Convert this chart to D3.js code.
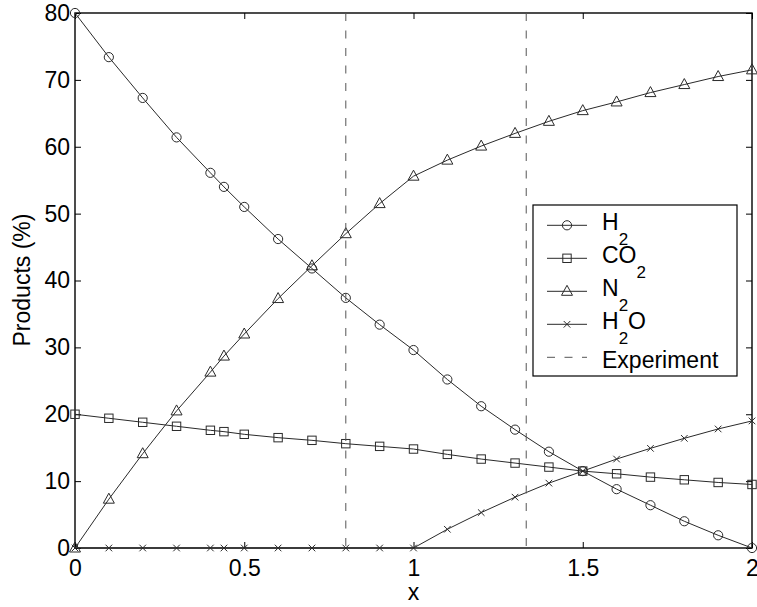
<!DOCTYPE html>
<html>
<head>
<meta charset="utf-8">
<script src="https://cdn.jsdelivr.net/npm/d3@7"></script>
<style>
  body { margin: 0; background: #fff; }
  svg { font-family: "Liberation Sans", Arial, sans-serif; }
</style>
</head>
<body>
<svg id="chart" width="757" height="607"></svg>
<script>
// values
const xValues = [0, 0.1, 0.2, 0.3, 0.4, 0.44, 0.5, 0.6, 0.7, 0.8, 0.9, 1.0,
                 1.1, 1.2, 1.3, 1.4, 1.5, 1.6, 1.7, 1.8, 1.9, 2.0];
const h2 = [80, 73.4, 67.3, 61.4, 56.1, 54.0, 51.0, 46.2, 41.8, 37.4, 33.4, 29.6,
            25.2, 21.2, 17.7, 14.4, 11.5, 8.8, 6.4, 4.0, 1.9, 0];
const co2 = [20, 19.4, 18.8, 18.2, 17.6, 17.4, 17.0, 16.5, 16.1, 15.6, 15.2, 14.8,
             14.0, 13.3, 12.7, 12.1, 11.5, 11.1, 10.6, 10.2, 9.8, 9.5];
const n2 = [0, 7.3, 14.1, 20.5, 26.3, 28.7, 32.0, 37.3, 42.2, 47.0, 51.5, 55.6,
            58.0, 60.1, 62.0, 63.8, 65.4, 66.7, 68.1, 69.3, 70.5, 71.5];
const h2o = [0, 0, 0, 0, 0, 0, 0, 0, 0, 0, 0, 0,
             2.8, 5.3, 7.6, 9.7, 11.5, 13.3, 14.9, 16.4, 17.8, 19.0];
const experimentX = [0.8, 1.333];
const xTicks = [0, 0.5, 1, 1.5, 2];
const yTicks = [0, 10, 20, 30, 40, 50, 60, 70, 80];

// series: main label, subscript, tail after subscript, marker
const series = [
    { main: "H", sub: "2", tail: "", marker: "circle", values: h2 },
    { main: "CO", sub: "2", tail: "", marker: "square", values: co2 },
    { main: "N", sub: "2", tail: "", marker: "triangle", values: n2 },
    { main: "H", sub: "2", tail: "O", marker: "cross", values: h2o }
];

const svg = d3.select("#chart");
const margin = { top: 13, right: 5, bottom: 59, left: 75 };
const width = 757 - margin.left - margin.right;
const height = 607 - margin.top - margin.bottom;
const fontSize = 23;
const lineColor = "#2a2a2a";

const x = d3.scaleLinear().domain([0, 2]).range([0, width]);
const y = d3.scaleLinear().domain([0, 80]).range([height, 0]);

const g = svg.append("g").attr("transform", `translate(${margin.left},${margin.top})`);

// axes, ticks pointing inward, mirrored on top and right
const fmt = d => String(d);
g.append("g").attr("transform", `translate(0,${height})`)
    .call(d3.axisBottom(x).tickValues(xTicks).tickFormat(fmt).tickSizeInner(-6).tickSizeOuter(0).tickPadding(12));
g.append("g")
    .call(d3.axisLeft(y).tickValues(yTicks).tickFormat(fmt).tickSizeInner(-6).tickSizeOuter(0).tickPadding(5));
g.append("g")
    .call(d3.axisTop(x).tickValues(xTicks).tickFormat("").tickSizeInner(-6).tickSizeOuter(0));
g.append("g").attr("transform", `translate(${width},0)`)
    .call(d3.axisRight(y).tickValues(yTicks).tickFormat("").tickSizeInner(-6).tickSizeOuter(0));

g.selectAll(".domain").remove();
g.selectAll(".tick line").attr("stroke", "#000").attr("stroke-width", 1);
g.selectAll(".tick text").attr("font-size", fontSize).attr("fill", "#000")
    .attr("font-family", "Liberation Sans, Arial, sans-serif");

g.append("rect")
    .attr("width", width).attr("height", height)
    .attr("fill", "none").attr("stroke", "#000").attr("stroke-width", 1.4);

// marker drawing
const drawMarker = (sel, type) => {
    if (type === "circle") {
        sel.append("circle").attr("r", 4.6);
    } else if (type === "square") {
        sel.append("rect").attr("x", -4.2).attr("y", -4.2).attr("width", 8.4).attr("height", 8.4);
    } else if (type === "triangle") {
        sel.append("path").attr("d", "M0,-6L5.5,4L-5.5,4Z");
    } else {
        sel.append("path").attr("d", "M-3.3,-3.3L3.3,3.3M-3.3,3.3L3.3,-3.3");
    }
};

const line = d3.line().x(d => x(d[0])).y(d => y(d[1]));

series.forEach(s => {
    const pts = xValues.map((xv, i) => [xv, s.values[i]]);
    g.append("path")
        .datum(pts)
        .attr("d", line)
        .attr("fill", "none")
        .attr("stroke", lineColor)
        .attr("stroke-width", 1);
    g.append("g")
        .selectAll("g")
        .data(pts)
        .join("g")
        .attr("transform", d => `translate(${x(d[0])},${y(d[1])})`)
        .attr("fill", "none")
        .attr("stroke", lineColor)
        .attr("stroke-width", 1)
        .each(function () { drawMarker(d3.select(this), s.marker); });
});

// experiment lines
g.selectAll(".experiment")
    .data(experimentX)
    .join("line")
    .attr("class", "experiment")
    .attr("x1", d => x(d)).attr("x2", d => x(d))
    .attr("y1", 0).attr("y2", height)
    .attr("stroke", "#555")
    .attr("stroke-width", 1)
    .attr("stroke-dasharray", "8,9.5");

// x and y labels
svg.append("text")
    .attr("x", margin.left + x(1)).attr("y", 600)
    .attr("text-anchor", "middle")
    .attr("font-size", fontSize)
    .text("x");
svg.append("text")
    .attr("transform", "translate(30,280) rotate(-90)")
    .attr("text-anchor", "middle")
    .attr("font-size", fontSize)
    .text("Products (%)");

// legend
const legend = svg.append("g");
legend.append("rect")
    .attr("x", 533).attr("y", 205)
    .attr("width", 204).attr("height", 171)
    .attr("fill", "#fff").attr("stroke", "#000").attr("stroke-width", 1.2);

const legendItems = series.concat([{ main: "Experiment", sub: "", tail: "", marker: "dash" }]);
legendItems.forEach((s, i) => {
    const ly = 225.3 + i * 33;
    const row = legend.append("g");
    if (s.marker === "dash") {
        row.append("line")
            .attr("x1", 547).attr("x2", 587).attr("y1", ly).attr("y2", ly)
            .attr("stroke", "#555").attr("stroke-width", 1)
            .attr("stroke-dasharray", "8,9.5");
    } else {
        row.append("line")
            .attr("x1", 547).attr("x2", 587).attr("y1", ly).attr("y2", ly)
            .attr("stroke", lineColor).attr("stroke-width", 1);
        const m = row.append("g")
            .attr("transform", `translate(567,${ly})`)
            .attr("fill", "none").attr("stroke", lineColor).attr("stroke-width", 1);
        drawMarker(m, s.marker);
    }
    const t = row.append("text")
        .attr("x", 602)
        .attr("y", ly + (s.sub ? 5 : 11))
        .attr("font-size", fontSize);
    t.append("tspan").text(s.main);
    if (s.sub) {
        t.append("tspan").attr("dy", 15).attr("font-size", 17).text(s.sub);
        if (s.tail) t.append("tspan").attr("dy", -15).text(s.tail);
    }
});
</script>
</body>
</html>
